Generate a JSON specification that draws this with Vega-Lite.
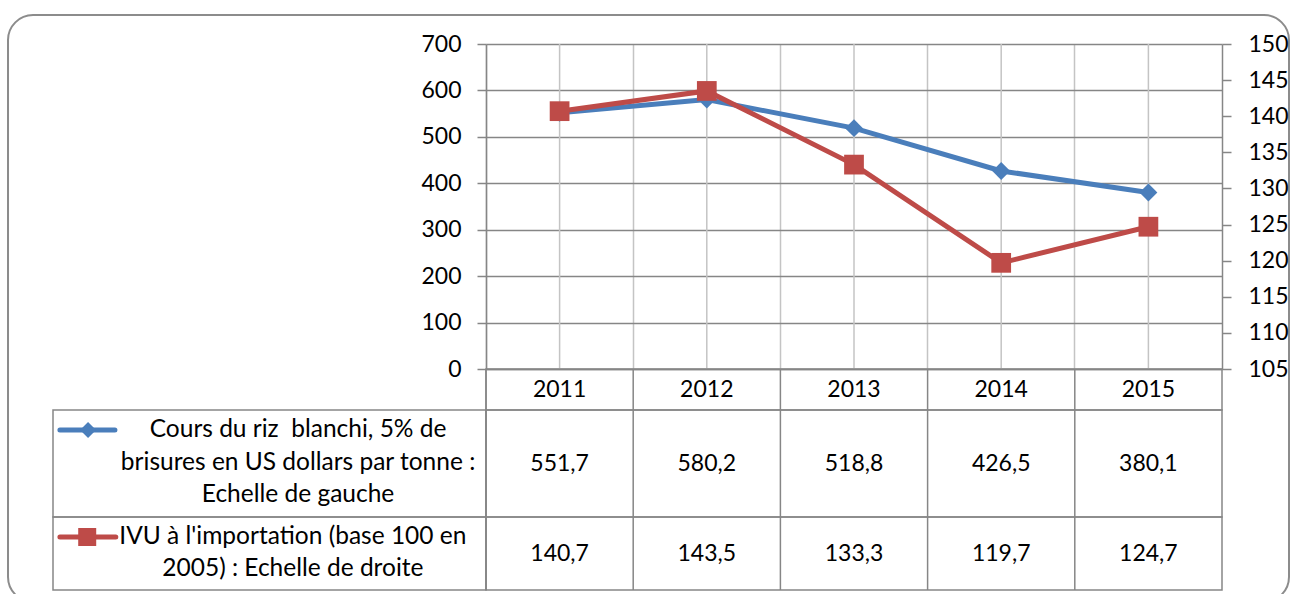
{
  "$schema": "https://vega.github.io/schema/vega-lite/v6.json",
  "padding": {"left": 7, "top": 14, "right": 1, "bottom": 0},
  "background": "white",
  "config": {
    "font": "Lato",
    "locale": {"number": {"decimal": ",", "thousands": " ", "grouping": [3], "currency": ["", " €"]}},
    "view": {"stroke": null},
    "text": {"fontSize": 23, "color": "#000000", "font": "Lato"}
  },
  "datasets": {
    "years": [
      {"year": "2011", "riz": 551.7, "ivu": 140.7},
      {"year": "2012", "riz": 580.2, "ivu": 143.5},
      {"year": "2013", "riz": 518.8, "ivu": 133.3},
      {"year": "2014", "riz": 426.5, "ivu": 119.7},
      {"year": "2015", "riz": 380.1, "ivu": 124.7}
    ],
    "legend": [
      {"serie": "riz", "lines": ["Cours du riz \u00a0blanchi, 5% de", "brisures en US dollars par tonne :", "Echelle de gauche"]},
      {"serie": "ivu", "lines": ["IVU à l'importation (base 100 en", "2005) : Echelle de droite"]}
    ]
  },
  "concat": [
    {
      "width": 433, "height": 325,
      "data": {"name": "legend"},
      "transform": [{"filter": "datum.serie === 'riz'"}],
      "mark": {"type": "rect", "fill": "transparent", "stroke": "#8c8c8c", "strokeWidth": 2, "cornerRadius": 25},
      "encoding": {
        "x": {"datum": -0.1039, "type": "quantitative", "scale": {"domain": [0, 1], "nice": false, "zero": false}, "axis": null},
        "x2": {"datum": 2.8545},
        "y": {"datum": -0.0892, "type": "quantitative", "scale": {"domain": [0, 1], "nice": false, "zero": false, "reverse": true}, "axis": null},
        "y2": {"datum": 1.7169}
      }
    },
    {
      "width": 736, "height": 325,
      "data": {"name": "years"},
      "layer": [
        {
          "mark": {"type": "rule", "color": "#c4c4c4", "strokeWidth": 1.5},
          "encoding": {
            "x": {
              "field": "year", "type": "ordinal", "bandPosition": 0.5,
              "scale": {"type": "band", "paddingInner": 0, "paddingOuter": 0},
              "axis": {"orient": "bottom", "bandPosition": 0, "grid": true, "gridColor": "#c4c4c4", "gridWidth": 1.5, "ticks": false, "labels": false, "domainColor": "#868686", "domainWidth": 1.5, "title": null}
            }
          }
        },
        {
          "encoding": {
            "x": {"field": "year", "type": "ordinal", "bandPosition": 0.5},
            "y": {
              "field": "riz", "type": "quantitative",
              "scale": {"domain": [0, 700], "nice": false, "zero": true},
              "axis": {"orient": "left", "values": [0, 100, 200, 300, 400, 500, 600, 700], "grid": true, "gridColor": "#868686", "gridWidth": 1.5, "domainColor": "#868686", "domainWidth": 1.5, "tickColor": "#868686", "tickWidth": 1.5, "tickSize": 9, "labelPadding": 16, "labelFontSize": 23, "labelFont": "Lato", "labelColor": "#000000", "title": null}
            }
          },
          "layer": [
            {"mark": {"type": "line", "color": "#4A7EBB", "strokeWidth": 5}},
            {"mark": {"type": "point", "shape": "diamond", "filled": true, "size": 320, "color": "#4A7EBB", "opacity": 1}}
          ]
        },
        {
          "encoding": {
            "x": {"field": "year", "type": "ordinal", "bandPosition": 0.5},
            "y": {
              "field": "ivu", "type": "quantitative",
              "scale": {"domain": [105, 150], "nice": false, "zero": false},
              "axis": {"orient": "right", "values": [105, 110, 115, 120, 125, 130, 135, 140, 145, 150], "grid": false, "domainColor": "#868686", "domainWidth": 1.5, "tickColor": "#868686", "tickWidth": 1.5, "tickSize": 9, "labelPadding": 17, "labelFontSize": 23, "labelFont": "Lato", "labelColor": "#000000", "title": null}
            }
          },
          "layer": [
            {"mark": {"type": "line", "color": "#BE4B48", "strokeWidth": 5}},
            {"mark": {"type": "point", "shape": "square", "filled": true, "size": 390, "color": "#BE4B48", "opacity": 1}}
          ]
        }
      ],
      "resolve": {"scale": {"y": "independent"}}
    },
    {
      "width": 433, "height": 41,
      "data": {"name": "legend"},
      "mark": {"type": "text"},
      "encoding": {"text": {"value": ""}}
    },
    {
      "width": 736, "height": 41,
      "data": {"name": "years"},
      "view": {"stroke": "#868686", "strokeWidth": 1.5},
      "encoding": {
        "x": {"field": "year", "type": "ordinal", "scale": {"type": "band", "paddingInner": 0, "paddingOuter": 0}, "axis": null}
      },
      "layer": [
        {"mark": {"type": "rule", "color": "#868686", "strokeWidth": 1.5}, "encoding": {"x": {"field": "year", "type": "ordinal", "bandPosition": 0}}},
        {"mark": {"type": "text"}, "encoding": {"x": {"field": "year", "type": "ordinal", "bandPosition": 0.5}, "text": {"field": "year"}}}
      ]
    },
    {
      "width": 433, "height": 107,
      "data": {"name": "legend"},
      "transform": [{"filter": "datum.serie === 'riz'"}],
      "view": {"stroke": "#868686", "strokeWidth": 1.5},
      "layer": [
        {
          "mark": {"type": "rule", "color": "#4A7EBB", "strokeWidth": 5, "strokeCap": "round"},
          "encoding": {
            "x": {"datum": 0.016, "type": "quantitative", "scale": {"domain": [0, 1], "nice": false, "zero": false}, "axis": null},
            "x2": {"datum": 0.143},
            "y": {"datum": 0.187, "type": "quantitative", "scale": {"domain": [0, 1], "nice": false, "zero": false, "reverse": true}, "axis": null}
          }
        },
        {
          "mark": {"type": "point", "shape": "diamond", "filled": true, "size": 256, "color": "#4A7EBB", "opacity": 1},
          "encoding": {
            "x": {"datum": 0.081, "type": "quantitative"},
            "y": {"datum": 0.187, "type": "quantitative"}
          }
        },
        {
          "mark": {"type": "text", "lineHeight": 32.5, "align": "center", "baseline": "middle", "fontSize": 24.5},
          "encoding": {
            "x": {"datum": 0.566, "type": "quantitative"},
            "y": {"datum": 0.187, "type": "quantitative"},
            "text": {"field": "lines"}
          }
        }
      ]
    },
    {
      "width": 736, "height": 107,
      "data": {"name": "years"},
      "view": {"stroke": "#868686", "strokeWidth": 1.5},
      "encoding": {
        "x": {"field": "year", "type": "ordinal", "scale": {"type": "band", "paddingInner": 0, "paddingOuter": 0}, "axis": null}
      },
      "layer": [
        {"mark": {"type": "rule", "color": "#868686", "strokeWidth": 1.5}, "encoding": {"x": {"field": "year", "type": "ordinal", "bandPosition": 0}}},
        {"mark": {"type": "text"}, "encoding": {"x": {"field": "year", "type": "ordinal", "bandPosition": 0.5}, "text": {"field": "riz", "type": "quantitative", "format": ".1f"}}}
      ]
    },
    {
      "width": 433, "height": 73,
      "data": {"name": "legend"},
      "transform": [{"filter": "datum.serie === 'ivu'"}],
      "view": {"stroke": "#868686", "strokeWidth": 1.5},
      "layer": [
        {
          "mark": {"type": "rule", "color": "#BE4B48", "strokeWidth": 5, "strokeCap": "round"},
          "encoding": {
            "x": {"datum": 0.016, "type": "quantitative", "scale": {"domain": [0, 1], "nice": false, "zero": false}, "axis": null},
            "x2": {"datum": 0.145},
            "y": {"datum": 0.274, "type": "quantitative", "scale": {"domain": [0, 1], "nice": false, "zero": false, "reverse": true}, "axis": null}
          }
        },
        {
          "mark": {"type": "point", "shape": "square", "filled": true, "size": 324, "color": "#BE4B48", "opacity": 1},
          "encoding": {
            "x": {"datum": 0.079, "type": "quantitative"},
            "y": {"datum": 0.274, "type": "quantitative"}
          }
        },
        {
          "mark": {"type": "text", "lineHeight": 31.5, "align": "center", "baseline": "middle", "fontSize": 24.5},
          "encoding": {
            "x": {"datum": 0.554, "type": "quantitative"},
            "y": {"datum": 0.274, "type": "quantitative"},
            "text": {"field": "lines"}
          }
        }
      ]
    },
    {
      "width": 736, "height": 73,
      "data": {"name": "years"},
      "view": {"stroke": "#868686", "strokeWidth": 1.5},
      "encoding": {
        "x": {"field": "year", "type": "ordinal", "scale": {"type": "band", "paddingInner": 0, "paddingOuter": 0}, "axis": null}
      },
      "layer": [
        {"mark": {"type": "rule", "color": "#868686", "strokeWidth": 1.5}, "encoding": {"x": {"field": "year", "type": "ordinal", "bandPosition": 0}}},
        {"mark": {"type": "text"}, "encoding": {"x": {"field": "year", "type": "ordinal", "bandPosition": 0.5}, "text": {"field": "ivu", "type": "quantitative", "format": ".1f"}}}
      ]
    }
  ],
  "columns": 2,
  "spacing": 0,
  "bounds": "flush",
  "align": "each"
}
